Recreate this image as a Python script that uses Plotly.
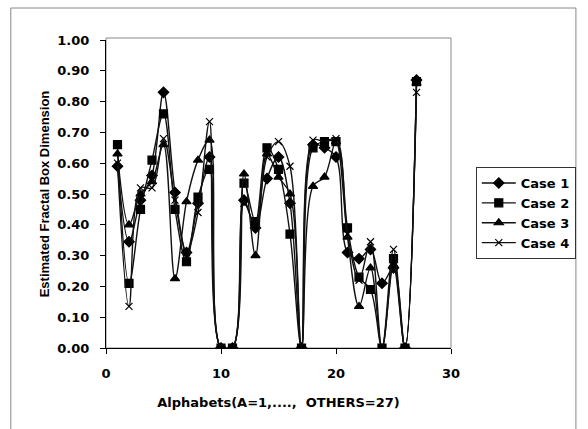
import plotly.graph_objects as go

x = list(range(1, 28))
case1 = [0.59, 0.345, 0.48, 0.56, 0.83, 0.505, 0.31, 0.47, 0.62, 0, 0, 0.48, 0.39, 0.55, 0.62, 0.47, 0, 0.66, 0.65, 0.62, 0.31, 0.29, 0.32, 0.21, 0.26, 0, 0.87]
case2 = [0.66, 0.21, 0.45, 0.61, 0.76, 0.45, 0.28, 0.49, 0.58, 0, 0, 0.535, 0.41, 0.65, 0.58, 0.37, 0, 0.65, 0.67, 0.67, 0.39, 0.23, 0.19, 0, 0.29, 0, 0.865]
case3 = [0.63, 0.40, 0.50, 0.54, 0.66, 0.225, 0.475, 0.61, 0.675, 0, 0, 0.565, 0.30, 0.63, 0.555, 0.50, 0, 0.525, 0.555, 0.67, 0.36, 0.135, 0.26, 0, 0.27, 0, 0.86]
case4 = [0.60, 0.135, 0.52, 0.52, 0.68, 0.48, 0.31, 0.44, 0.735, 0, 0, 0.47, 0.40, 0.62, 0.67, 0.59, 0, 0.675, 0.67, 0.68, 0.37, 0.22, 0.345, 0, 0.32, 0, 0.83]

series = [
    ("Case 1", case1, "diamond", 8),
    ("Case 2", case2, "square", 8),
    ("Case 3", case3, "triangle-up", 8),
    ("Case 4", case4, "x-thin-open", 7),
]

fig = go.Figure()
for name, ys, sym, sz in series:
    fig.add_trace(go.Scatter(
        x=x, y=ys, name=name, mode="lines+markers",
        line=dict(color="#111111", width=1.4, shape="spline", smoothing=1.0),
        marker=dict(symbol=sym, size=sz, color="#000000",
                    line=dict(color="#000000", width=1.2)),
    ))

L, R, T, B = 106, 454, 40, 348
W, H = 588, 429
pw, ph = R - L, B - T

def px(xp):
    return (xp - L) / pw

def py(yp):
    return (B - yp) / ph

WIDE = "DejaVu Sans, Verdana, sans-serif"
NARROW = "Liberation Sans, Arial, sans-serif"

fig.update_layout(
    width=W, height=H,
    margin=dict(l=L, r=W - R, t=T, b=H - B),
    paper_bgcolor="white", plot_bgcolor="white",
    font=dict(family=WIDE, size=12, color="#000000"),
    showlegend=True,
    legend=dict(
        x=px(479), y=py(167), xanchor="left", yanchor="top",
        bordercolor="#333333", borderwidth=1, bgcolor="white",
        font=dict(family=WIDE, size=13, color="#000000", weight="bold"),
        tracegroupgap=3, itemwidth=34,
    ),
    xaxis=dict(
        range=[0, 30], dtick=10, tick0=0,
        showgrid=False, zeroline=False,
        showline=True, linecolor="#000000", linewidth=1,
        ticks="outside", ticklen=5, tickcolor="#000000",
        ticklabelstandoff=8,
        tickfont=dict(family=WIDE, size=13, color="#000000", weight="bold"),
        title=dict(text="Alphabets(A=1,....,  OTHERS=27)", standoff=18,
                   font=dict(family=WIDE, size=13, color="#000000", weight="bold")),
    ),
    yaxis=dict(
        range=[0, 1], dtick=0.1, tick0=0, tickformat=".2f",
        showgrid=False, zeroline=False,
        showline=True, linecolor="#000000", linewidth=1,
        ticks="outside", ticklen=5, tickcolor="#000000",
        ticklabelstandoff=8,
        tickfont=dict(family=WIDE, size=13, color="#000000", weight="bold"),
        title=dict(text="Estimated Fractal Box Dimension", standoff=4,
                   font=dict(family=NARROW, size=13, color="#000000", weight="bold")),
    ),
    shapes=[
        dict(type="rect", xref="paper", yref="paper", x0=0, x1=1, y0=0, y1=py(38),
             line=dict(color="#888888", width=1), layer="below"),
        dict(type="rect", xref="paper", yref="paper", x0=px(10), x1=px(580), y0=py(440), y1=py(8),
             line=dict(color="#888888", width=1), layer="below"),
    ],
)

fig.write_html("out.html")
